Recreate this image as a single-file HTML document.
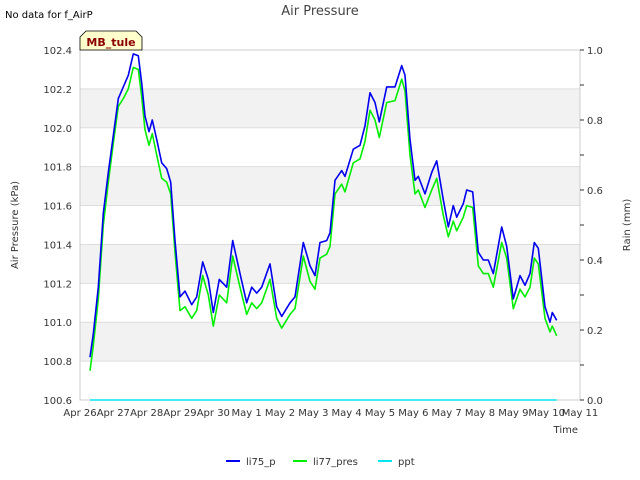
<!DOCTYPE html>
<html><head><meta charset="utf-8"><style>
body{margin:0;background:#fff;}
svg{display:block;font-family:"DejaVu Sans","Liberation Sans",sans-serif;}
</style></head><body>
<svg id="chart" width="640" height="480" viewBox="0 0 640 480" xmlns="http://www.w3.org/2000/svg">
<text x="5" y="18" font-size="10" fill="#000">No data for f_AirP</text>
<text x="320" y="15" font-size="13" fill="#444" text-anchor="middle">Air Pressure</text>
<g id="bands"></g>
<g id="grid"></g>
<rect x="80" y="50" width="500" height="350" fill="none" stroke="#ccc"/>
<g id="series"></g>
<g id="yticks"></g>
<g id="y2ticks"></g>
<g id="xticks"></g>
<text transform="translate(18,225) rotate(-90)" font-size="10" fill="#333" text-anchor="middle">Air Pressure (kPa)</text>
<text transform="translate(630,225) rotate(-90)" font-size="10" fill="#333" text-anchor="middle">Rain (mm)</text>
<text x="578" y="433" font-size="10" fill="#333" text-anchor="end">Time</text>
<g>
<path d="M80,50 L80,37 L86,31 L136,31 L142,37 L142,50 Z" fill="#ffffcc" stroke="#000" stroke-width="0.8"/>
<text x="111" y="46" font-size="11" font-weight="bold" fill="#8b0000" text-anchor="middle">MB_tule</text>
</g>
<g>
<g><line x1="226" y1="461" x2="240" y2="461" stroke="#0000ee" stroke-width="2"/><text x="246" y="465" font-size="10" fill="#333">li75_p</text></g>
<g><line x1="293" y1="461" x2="307" y2="461" stroke="#00ee00" stroke-width="2"/><text x="313" y="465" font-size="10" fill="#333">li77_pres</text></g>
<g><line x1="378" y1="461" x2="392" y2="461" stroke="#00e5ee" stroke-width="2"/><text x="398" y="465" font-size="10" fill="#333">ppt</text></g>
</g>
</svg>
<script>
const xLabels=["Apr 26","Apr 27","Apr 28","Apr 29","Apr 30","May 1","May 2","May 3","May 4","May 5","May 6","May 7","May 8","May 9","May 10","May 11"];
const yTicks=[100.6,100.8,101.0,101.2,101.4,101.6,101.8,102.0,102.2,102.4];
const y2Ticks=[0.0,0.2,0.4,0.6,0.8,1.0];
const times=[0.3,0.4,0.55,0.7,0.85,1.0,1.15,1.3,1.45,1.6,1.75,1.85,1.95,2.07,2.17,2.3,2.45,2.6,2.72,2.85,3.0,3.15,3.35,3.5,3.68,3.85,4.0,4.18,4.4,4.58,4.8,5.0,5.15,5.3,5.45,5.7,5.9,6.05,6.3,6.45,6.7,6.9,7.05,7.2,7.4,7.5,7.65,7.85,7.95,8.2,8.4,8.55,8.7,8.85,8.98,9.2,9.45,9.65,9.75,9.9,10.05,10.15,10.35,10.55,10.7,10.9,11.05,11.2,11.3,11.5,11.6,11.78,11.95,12.1,12.25,12.4,12.65,12.8,13.0,13.2,13.35,13.5,13.63,13.75,13.95,14.1,14.17,14.3];
const li75=[100.82,100.94,101.18,101.56,101.77,101.96,102.15,102.21,102.27,102.38,102.37,102.23,102.06,101.98,102.04,101.94,101.82,101.79,101.72,101.42,101.13,101.16,101.09,101.13,101.31,101.22,101.05,101.22,101.18,101.42,101.25,101.10,101.18,101.15,101.18,101.30,101.08,101.03,101.10,101.13,101.41,101.29,101.24,101.41,101.42,101.46,101.73,101.78,101.75,101.89,101.91,102.01,102.18,102.13,102.03,102.21,102.21,102.32,102.27,101.94,101.73,101.75,101.66,101.77,101.83,101.63,101.49,101.60,101.54,101.61,101.68,101.67,101.36,101.32,101.32,101.25,101.49,101.39,101.12,101.24,101.19,101.25,101.41,101.38,101.08,101.00,101.05,101.01];
const li77=[100.75,100.88,101.12,101.50,101.72,101.92,102.11,102.15,102.20,102.31,102.30,102.16,101.99,101.91,101.97,101.86,101.74,101.72,101.66,101.36,101.06,101.08,101.02,101.06,101.24,101.14,100.98,101.14,101.10,101.34,101.18,101.04,101.10,101.07,101.10,101.22,101.02,100.97,101.04,101.07,101.34,101.21,101.17,101.33,101.35,101.39,101.66,101.71,101.67,101.82,101.84,101.93,102.09,102.04,101.95,102.13,102.14,102.25,102.19,101.86,101.66,101.68,101.59,101.68,101.74,101.55,101.44,101.52,101.47,101.54,101.60,101.59,101.29,101.25,101.25,101.18,101.41,101.33,101.07,101.17,101.13,101.18,101.33,101.30,101.02,100.95,100.98,100.93];
const pptTimes=[0.3,14.3];
const ppt=[0,0];
const NS="http://www.w3.org/2000/svg";
const X0=80,X1=580,Y0=400,Y1=50;
function xs(d){return X0+d*(X1-X0)/15;}
function ys(v){return Y0-(v-100.6)*(Y0-Y1)/1.8;}
function ys2(v){return Y0-v*(Y0-Y1)/1.0;}
function mk(tag,attrs,parent){const e=document.createElementNS(NS,tag);for(const k in attrs)e.setAttribute(k,attrs[k]);parent.appendChild(e);return e;}
const bands=document.getElementById('bands'),grid=document.getElementById('grid');
for(let i=0;i<yTicks.length-1;i++){
  if(i%2===1){const r=mk('rect',{x:X0,y:ys(yTicks[i+1]),width:X1-X0,height:ys(yTicks[i])-ys(yTicks[i+1]),fill:'#f2f2f2'},bands);
  
  }
}
const yt=document.getElementById('yticks');
yTicks.forEach(v=>{
  const l=mk('line',{x1:X0,x2:X1,y1:ys(v),y2:ys(v),stroke:'#ddd'},grid);
  
  
  const t=mk('text',{x:72,y:ys(v)+4,'font-size':10,fill:'#333','text-anchor':'end'},yt);
  t.textContent=v.toFixed(1);
  
  
});
const y2=document.getElementById('y2ticks');
for(let k=0;k<=10;k++){
  const v=k/10;
  const l=mk('line',{x1:X1,x2:X1+4,y1:ys2(v),y2:ys2(v),stroke:'#333'},y2);
  
  
}
y2Ticks.forEach(v=>{
  const t=mk('text',{x:587,y:ys2(v)+4,'font-size':10,fill:'#333'},y2);
  t.textContent=v.toFixed(1);
  
  
});
const xt=document.getElementById('xticks');
xLabels.forEach((s,i)=>{
  const t=mk('text',{x:xs(i),y:416,'font-size':10,fill:'#333','text-anchor':'middle'},xt);
  t.textContent=s;
  
  
});
const sg=document.getElementById('series');
function line(ts,vals,f,color,name){
  const p=mk('polyline',{points:ts.map((t,i)=>xs(t).toFixed(1)+','+f(vals[i]).toFixed(1)).join(' '),fill:'none',stroke:color,'stroke-width':1.6,'stroke-linejoin':'round'},sg);
  
  
}
line(pptTimes,ppt,ys2,'#00e5ee','ppt-line');
line(times,li77,ys,'#00ee00','li77-pres-line');
line(times,li75,ys,'#0000ee','li75-p-line');
</script>
</body></html>
